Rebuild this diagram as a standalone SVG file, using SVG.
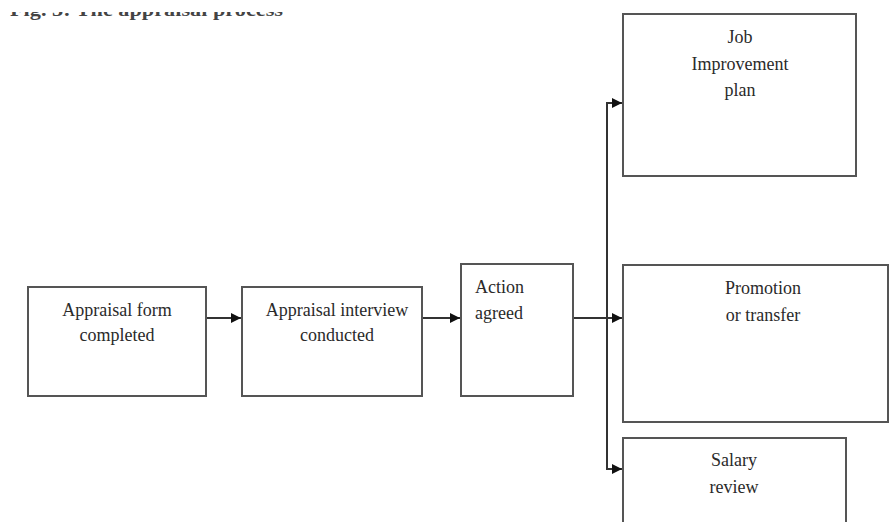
<svg xmlns="http://www.w3.org/2000/svg" width="890" height="522" viewBox="0 0 890 522">
<defs>
<style>
.box{fill:#fff;stroke:#555;stroke-width:2}
.t{font-family:"Liberation Serif","Times New Roman",serif;font-size:18px;fill:#2a2a2a}
.c{text-anchor:middle}
.ln{fill:none;stroke:#333;stroke-width:2}
.title{font-family:"Liberation Serif","Times New Roman",serif;font-size:19px;font-weight:bold;fill:#444}
</style>
<marker id="ah" viewBox="0 0 10 10" refX="10" refY="5" markerWidth="5" markerHeight="5" orient="auto" markerUnits="strokeWidth">
<path d="M0,0 L10,5 L0,10 z" fill="#111"/>
</marker>
<clipPath id="tc" clipPathUnits="userSpaceOnUse"><rect x="0" y="12" width="320" height="10"/></clipPath>
</defs>
<rect width="890" height="522" fill="#fff"/>
<g id="title" clip-path="url(#tc)">
<text class="title" x="10" y="16" textLength="273" lengthAdjust="spacingAndGlyphs">Fig. 3: The appraisal process</text>
</g>
<g id="connectors">
<line class="ln" x1="206" y1="318" x2="241" y2="318" marker-end="url(#ah)"/>
<line class="ln" x1="422" y1="318" x2="460" y2="318" marker-end="url(#ah)"/>
<line class="ln" x1="573" y1="318" x2="622" y2="318" marker-end="url(#ah)"/>
<line class="ln" x1="607" y1="102" x2="607" y2="470"/>
<line class="ln" x1="606" y1="103" x2="622" y2="103" marker-end="url(#ah)"/>
<line class="ln" x1="606" y1="469" x2="622" y2="469" marker-end="url(#ah)"/>
</g>
<g id="n1">
<rect class="box" x="28" y="287" width="178" height="109"/>
<text class="t c" x="117" y="316">Appraisal form</text>
<text class="t c" x="117" y="341">completed</text>
</g>
<g id="n2">
<rect class="box" x="242" y="287" width="180" height="109"/>
<text class="t c" x="337" y="316">Appraisal interview</text>
<text class="t c" x="337" y="341">conducted</text>
</g>
<g id="n3">
<rect class="box" x="461" y="264" width="112" height="132"/>
<text class="t" x="475" y="293">Action</text>
<text class="t" x="475" y="319">agreed</text>
</g>
<g id="n4">
<rect class="box" x="623" y="14" width="233" height="162"/>
<text class="t c" x="740" y="43">Job</text>
<text class="t c" x="740" y="70">Improvement</text>
<text class="t c" x="740" y="96">plan</text>
</g>
<g id="n5">
<rect class="box" x="623" y="265" width="265" height="157"/>
<text class="t c" x="763" y="294">Promotion</text>
<text class="t c" x="763" y="321">or transfer</text>
</g>
<g id="n6">
<rect class="box" x="623" y="438" width="223" height="100"/>
<text class="t c" x="734" y="466">Salary</text>
<text class="t c" x="734" y="493">review</text>
</g>
</svg>
